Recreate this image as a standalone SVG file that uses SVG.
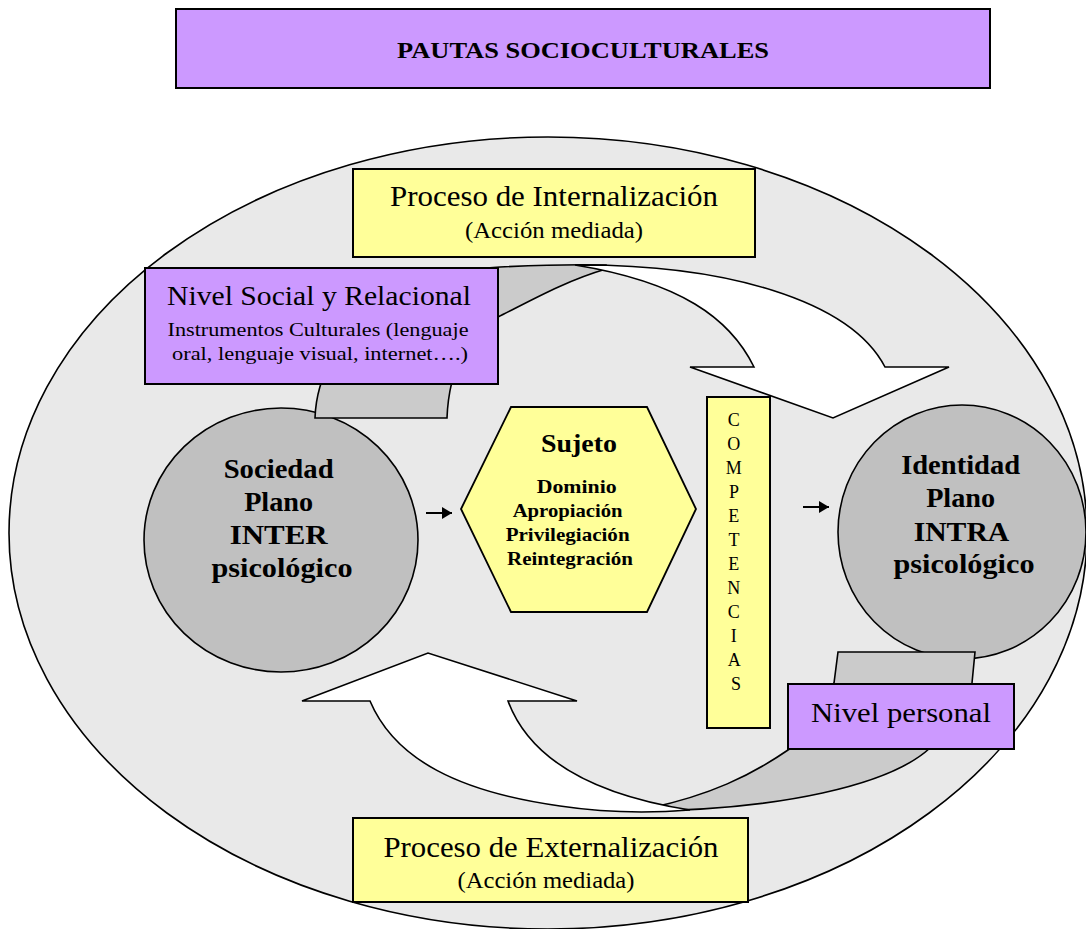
<svg xmlns="http://www.w3.org/2000/svg" width="1086" height="929" viewBox="0 0 1086 929">
<defs>
<style>
.t{font-family:"Liberation Serif","Times New Roman",serif;fill:#000;text-anchor:middle}
.b{font-weight:bold}
.box{stroke:#000;stroke-width:2}
.pur{fill:#cc99ff}
.yel{fill:#ffff99}
.ln{stroke:#000;stroke-width:1.6;stroke-linejoin:miter}
.back{fill:#cbcbcb}
.front{fill:#ffffff}
.circ{fill:#c0c0c0;stroke:#000;stroke-width:1.6}
</style>
<marker id="ah" viewBox="0 0 10 12" refX="10" refY="6" markerUnits="userSpaceOnUse" markerWidth="10" markerHeight="12" orient="auto">
<path d="M0,0 L10,6 L0,12 z" fill="#000"/>
</marker>
</defs>
<rect x="0" y="0" width="1086" height="929" fill="#ffffff"/>

<g id="title">
<rect class="box pur" x="176" y="9" width="814" height="79"/>
<text class="t b" x="583" y="58" font-size="23" textLength="372" lengthAdjust="spacingAndGlyphs">PAUTAS SOCIOCULTURALES</text>
</g>

<g id="frame">
<ellipse cx="548" cy="533" rx="539" ry="396" fill="#e9e9e9" stroke="#000" stroke-width="1.6"/>
</g>

<g id="sociedad">
<ellipse class="circ" cx="281" cy="540" rx="137" ry="132"/>
<text class="t b" font-size="27">
<tspan x="282" y="478" textLength="110" lengthAdjust="spacingAndGlyphs">Sociedad</tspan>
<tspan x="282" y="511" textLength="69" lengthAdjust="spacingAndGlyphs">Plano</tspan>
<tspan x="282" y="544" textLength="98" lengthAdjust="spacingAndGlyphs">INTER</tspan>
<tspan x="282" y="577" textLength="141" lengthAdjust="spacingAndGlyphs">psicológico</tspan>
</text>
</g>

<g id="identidad">
<ellipse class="circ" cx="962" cy="532" rx="124" ry="127"/>
<text class="t b" font-size="27">
<tspan x="964" y="474" textLength="119" lengthAdjust="spacingAndGlyphs">Identidad</tspan>
<tspan x="964" y="507" textLength="69" lengthAdjust="spacingAndGlyphs">Plano</tspan>
<tspan x="964" y="541" textLength="94" lengthAdjust="spacingAndGlyphs">INTRA</tspan>
<tspan x="964" y="573" textLength="141" lengthAdjust="spacingAndGlyphs">psicológico</tspan>
</text>
</g>

<g id="connectors">
<!-- top curved arrow (internalización) -->
<path class="ln back" d="M315,418 L447,418 C449,366 470,331 498,317 C530,301 565,281 606,269 L606,265 C570,264 540,265 500,267 C410,270 318,330 315,418 Z"/>
<path class="ln front" d="M575,265 C725,264 850,300 885,367 L949,367 L833,418 L690,367 L754,367 C730,318 680,282 575,265 Z"/>
<!-- bottom curved arrow (externalización) -->
<path class="ln back" d="M640,811 C780,810 890,785 930,748 C955,725 970,705 972,683 L975,652 L838,652 L834,683 C828,712 812,737 788,750 C750,776 710,795 650,808 Z"/>
<path class="ln front" d="M302,701 L428,653 L577,701 L508,701 C530,760 595,795 690,810 C640,814 600,812 560,806 C460,792 395,760 370,701 Z"/>
<!-- small arrows -->
<line x1="426" y1="513" x2="452" y2="513" stroke="#000" stroke-width="2" marker-end="url(#ah)"/>
<line x1="803" y1="507" x2="829" y2="507" stroke="#000" stroke-width="2" marker-end="url(#ah)"/>
</g>

<g id="sujeto">
<polygon class="yel" stroke="#000" stroke-width="1.8" points="511,407 647,407 696,509 647,612 511,612 461,509"/>
<text class="t b" x="579" y="452" font-size="25" textLength="76" lengthAdjust="spacingAndGlyphs">Sujeto</text>
<text class="t b" font-size="19">
<tspan x="579" y="493" textLength="80" lengthAdjust="spacingAndGlyphs">Dominio</tspan>
<tspan x="570" y="517" textLength="110" lengthAdjust="spacingAndGlyphs">Apropiación</tspan>
<tspan x="570" y="541" textLength="124" lengthAdjust="spacingAndGlyphs">Privilegiación</tspan>
<tspan x="570" y="565" textLength="126" lengthAdjust="spacingAndGlyphs">Reintegración</tspan>
</text>
</g>

<g id="competencias">
<rect class="box yel" x="707" y="397" width="63" height="331"/>
<text class="t" x="736" font-size="18">
<tspan x="736" y="426">C</tspan>
<tspan x="736" y="450">O</tspan>
<tspan x="736" y="474">M</tspan>
<tspan x="736" y="498">P</tspan>
<tspan x="736" y="522">E</tspan>
<tspan x="736" y="546">T</tspan>
<tspan x="736" y="570">E</tspan>
<tspan x="736" y="594">N</tspan>
<tspan x="736" y="618">C</tspan>
<tspan x="736" y="642">I</tspan>
<tspan x="736" y="666">A</tspan>
<tspan x="736" y="690">S</tspan>
</text>
</g>

<g id="internalizacion">
<rect class="box yel" x="353" y="169" width="402" height="88"/>
<text class="t" x="554" y="206" font-size="30" textLength="328" lengthAdjust="spacingAndGlyphs">Proceso de Internalización</text>
<text class="t" x="554" y="238" font-size="24" textLength="178" lengthAdjust="spacingAndGlyphs">(Acción mediada)</text>
</g>

<g id="nivel-social">
<rect class="box pur" x="145" y="268" width="353" height="116"/>
<text class="t" x="319" y="305" font-size="28" textLength="304" lengthAdjust="spacingAndGlyphs">Nivel Social y Relacional</text>
<text class="t" x="318" y="336" font-size="19" textLength="301" lengthAdjust="spacingAndGlyphs">Instrumentos Culturales (lenguaje</text>
<text class="t" x="320" y="360" font-size="19" textLength="296" lengthAdjust="spacingAndGlyphs">oral, lenguaje visual, internet….)</text>
</g>

<g id="nivel-personal">
<rect class="box pur" x="788" y="684" width="226" height="65"/>
<text class="t" x="901" y="722" font-size="27" textLength="180" lengthAdjust="spacingAndGlyphs">Nivel personal</text>
</g>

<g id="externalizacion">
<rect class="box yel" x="353" y="818" width="395" height="84"/>
<text class="t" x="551" y="857" font-size="30" textLength="335" lengthAdjust="spacingAndGlyphs">Proceso de Externalización</text>
<text class="t" x="546" y="888" font-size="24" textLength="177" lengthAdjust="spacingAndGlyphs">(Acción mediada)</text>
</g>
</svg>
